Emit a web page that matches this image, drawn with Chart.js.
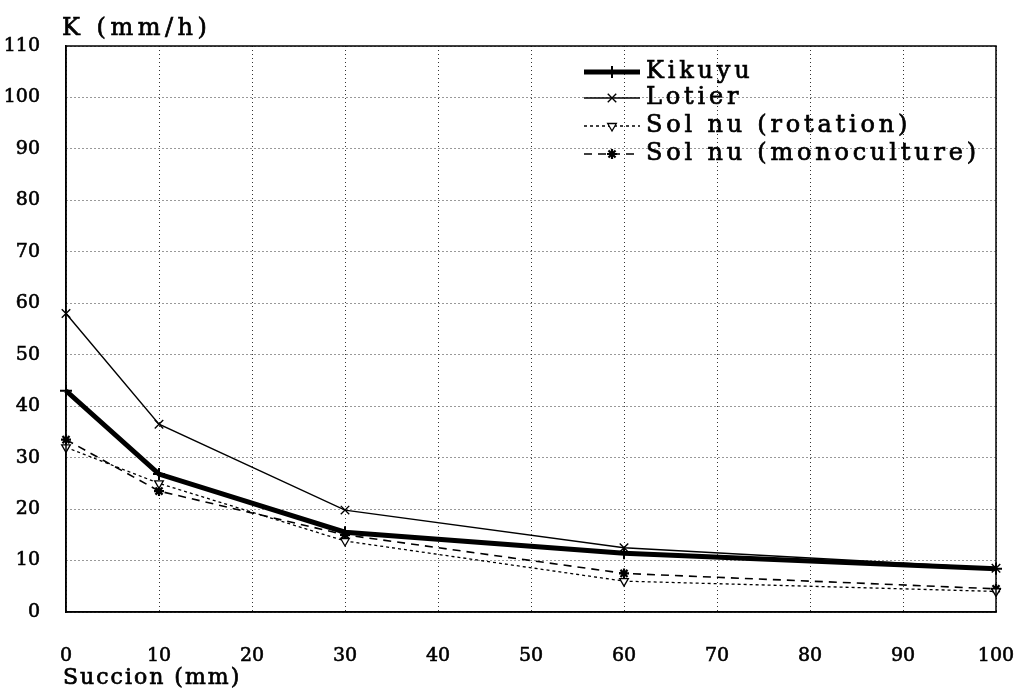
<!DOCTYPE html>
<html>
<head>
<meta charset="utf-8">
<script src="https://cdn.jsdelivr.net/npm/chart.js@4"></script>
<style>
html,body{margin:0;padding:0;background:#fff;}
#wrap{width:1020px;height:692px;position:relative;}
</style>
</head>
<body>
<div id="wrap"><canvas id="c" width="1020" height="692"></canvas></div>
<script>
const succion = [0, 10, 30, 60, 100];
const kikuyu = [43, 26.8, 15.5, 11.4, 8.4];
const lotier = [58, 36.5, 19.8, 12.5, 8.5];
const solRotation = [32, 25, 13.8, 6, 4];
const solMonoculture = [33.5, 23.5, 15, 7.5, 4.5];
const seriesNames = ['Kikuyu', 'Lotier', 'Sol nu (rotation)', 'Sol nu (monoculture)'];
const xTicks = [0, 10, 20, 30, 40, 50, 60, 70, 80, 90, 100];
const yTicks = [0, 10, 20, 30, 40, 50, 60, 70, 80, 90, 100, 110];
const xTitle = 'Succion (mm)';
const yTitle = 'K (mm/h)';

const FONT = "'DejaVu Serif', 'Liberation Serif', serif";
const toXY = arr => arr.map((v, i) => ({x: succion[i], y: v}));

const styles = [
  {borderWidth: 5, borderDash: [], pointStyle: 'cross', pointRadius: 6, pointBorderWidth: 2, rot: 0},
  {borderWidth: 1.4, borderDash: [], pointStyle: 'crossRot', pointRadius: 6, pointBorderWidth: 1.4, rot: 0},
  {borderWidth: 1.3, borderDash: [3, 3], pointStyle: 'triangle', pointRadius: 5, pointBorderWidth: 1.3, rot: 180},
  {borderWidth: 1.6, borderDash: [8, 6], pointStyle: 'star', pointRadius: 5, pointBorderWidth: 2.2, rot: 0}
];
const values = [kikuyu, lotier, solRotation, solMonoculture];

const datasets = values.map((v, i) => ({
  label: seriesNames[i],
  data: toXY(v),
  borderColor: '#000',
  backgroundColor: '#fff',
  borderWidth: styles[i].borderWidth,
  borderDash: styles[i].borderDash,
  pointStyle: styles[i].pointStyle,
  pointRadius: styles[i].pointRadius,
  pointBorderWidth: styles[i].pointBorderWidth,
  pointRotation: styles[i].rot,
  pointBorderColor: '#000',
  pointBackgroundColor: '#fff',
  tension: 0,
  fill: false,
  clip: false
}));

function heavyText(ctx, text, x, y) {
  ctx.fillText(text, x, y);
  ctx.strokeText(text, x, y);
}

const framePlugin = {
  id: 'frame',
  beforeDraw(chart) {
    chart.ctx.letterSpacing = '0px';
  },
  afterDatasetsDraw(chart) {
    const {ctx, chartArea: a} = chart;
    ctx.save();
    ctx.strokeStyle = '#000';
    ctx.lineWidth = 1.5;
    ctx.setLineDash([]);
    ctx.strokeRect(a.left, a.top, a.right - a.left, a.bottom - a.top);
    ctx.fillStyle = '#000';
    ctx.textAlign = 'left';
    ctx.textBaseline = 'middle';
    ctx.lineWidth = 0.7;
    // axis titles
    ctx.font = "24px " + FONT;
    ctx.letterSpacing = '4.5px';
    heavyText(ctx, yTitle, a.left - 4, 29);
    ctx.font = "22px " + FONT;
    ctx.letterSpacing = '2px';
    heavyText(ctx, xTitle, a.left - 3, 678);
    // legend
    const lx0 = 584, lx1 = 640, tx = 646;
    const rows = [72, 98, 126, 154];
    ctx.font = "24px " + FONT;
    ctx.letterSpacing = '3.8px';
    chart.data.datasets.forEach((ds, i) => {
      const y = rows[i];
      ctx.save();
      ctx.letterSpacing = '0px';
      ctx.strokeStyle = '#000';
      ctx.lineWidth = ds.borderWidth;
      ctx.setLineDash(ds.borderDash || []);
      ctx.beginPath();
      ctx.moveTo(lx0, y);
      ctx.lineTo(lx1, y);
      ctx.stroke();
      ctx.setLineDash([]);
      ctx.lineWidth = ds.pointBorderWidth;
      ctx.fillStyle = '#fff';
      Chart.helpers.drawPoint(ctx, {pointStyle: ds.pointStyle, rotation: ds.pointRotation, radius: ds.pointRadius, borderWidth: ds.pointBorderWidth}, (lx0 + lx1) / 2, y);
      ctx.restore();
      ctx.fillStyle = '#000';
      ctx.lineWidth = 0.7;
      heavyText(ctx, ds.label, tx, y);
    });
    ctx.letterSpacing = '0px';
    ctx.restore();
    ctx.letterSpacing = '0px';
  }
};

new Chart(document.getElementById('c'), {
  type: 'line',
  data: {datasets},
  options: {
    responsive: false,
    animation: false,
    devicePixelRatio: 1,
    layout: {padding: {top: 46, right: 24, left: 0, bottom: 0}},
    plugins: {legend: {display: false}, title: {display: false}, tooltip: {enabled: false}},
    scales: {
      x: {
        type: 'linear', min: 0, max: 100,
        afterBuildTicks: s => { s.ticks = xTicks.map(v => ({value: v})); },
        afterFit: s => { s.height = 80; },
        grid: {color: '#333', lineWidth: 1, drawTicks: true, tickLength: 31, tickColor: 'rgba(0,0,0,0)'},
        border: {display: true, color: '#000', width: 1.5, dash: [1, 3]},
        ticks: {color: '#000', font: {family: FONT, size: 19}, padding: 2, maxRotation: 0, autoSkip: false, textStrokeColor: '#000', textStrokeWidth: 0.6}
      },
      y: {
        type: 'linear', min: 0, max: 110,
        afterBuildTicks: s => { s.ticks = yTicks.map(v => ({value: v})); },
        afterFit: s => { s.width = 66; },
        grid: {color: '#333', lineWidth: 1, drawTicks: false},
        border: {display: true, color: '#000', width: 1.5, dash: [1, 3]},
        ticks: {color: '#000', font: {family: FONT, size: 19}, padding: 26, autoSkip: false, textStrokeColor: '#000', textStrokeWidth: 0.6}
      }
    }
  },
  plugins: [framePlugin]
});
</script>
</body>
</html>
